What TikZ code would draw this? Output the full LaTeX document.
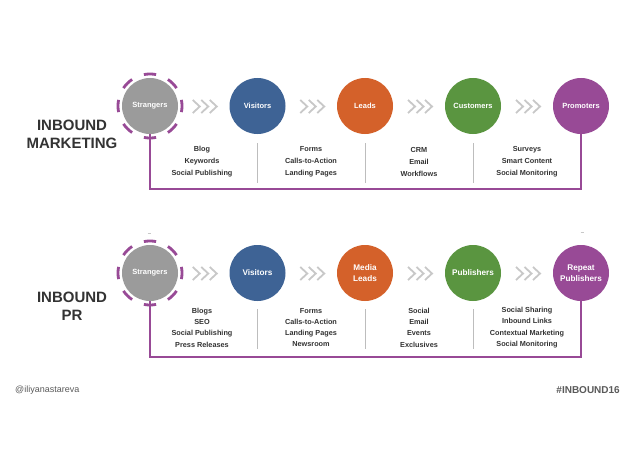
\documentclass[tikz,border=0pt]{standalone}
\usepackage{fontspec}
\setmainfont{Liberation Sans}
\usetikzlibrary{calc}
\definecolor{cgray}{HTML}{9B9B9B}
\definecolor{cblue}{HTML}{3E6395}
\definecolor{corange}{HTML}{D4612A}
\definecolor{cgreen}{HTML}{5A9540}
\definecolor{cpurple}{HTML}{984A96}
\definecolor{ctext}{HTML}{333333}
\definecolor{cchev}{HTML}{C8C8C8}
\definecolor{csep}{HTML}{BDBDBD}
\definecolor{cfoot}{HTML}{5A5A5A}
\begin{document}
\begin{tikzpicture}[x=1pt,y=-1pt,
  stage/.style={circle, minimum size=56pt, inner sep=0pt, text=white, align=center},
  toplab/.style={font=\bfseries\fontsize{7.5}{9}\selectfont},
  botlab/.style={font=\bfseries\fontsize{8.2}{11}\selectfont},
  items/.style={align=center, text=ctext, inner sep=0pt, font=\bfseries\fontsize{7.3}{12}\selectfont},
  itemsb/.style={align=center, text=ctext, inner sep=0pt, font=\bfseries\fontsize{7.3}{11.3}\selectfont},
  title/.style={align=center, text=ctext, font=\bfseries\fontsize{15}{18}\selectfont},
  chev/.style={cchev, line width=1.8pt},
  sepline/.style={csep, line width=1pt},
  loop/.style={cpurple, line width=2.5pt},
  ringdash/.style={cpurple, line width=2.8pt},
]
\useasboundingbox[fill=white] (0,0) rectangle (640,452);

% ---------- top row ----------
\node[title] (t1) at (72,134) {INBOUND\\MARKETING};
\node[stage, toplab, fill=cgray]   (s1) at (150,106) {Strangers};
\node[stage, toplab, fill=cblue]   (v1) at (257.5,106) {Visitors};
\node[stage, toplab, fill=corange] (l1) at (365,106) {Leads};
\node[stage, toplab, fill=cgreen]  (c1) at (473,106) {Customers};
\node[stage, toplab, fill=cpurple] (p1) at (581,106) {Promoters};

\node[items] (i11) at (202,162) {Blog\\Keywords\\Social Publishing};
\node[items] (i12) at (311,162) {Forms\\Calls-to-Action\\Landing Pages};
\node[items] (i13) at (419,162) {CRM\\Email\\Workflows};
\node[items] (i14) at (527,162) {Surveys\\Smart Content\\Social Monitoring};

\foreach \n in {v1,l1,c1}{
  \coordinate (a) at ($(\n)+(0,37)$);
  \coordinate (b) at ($(\n)+(0,77)$);
  \draw[sepline] (a) -- (b);
}
\coordinate (b1) at (150,189);
\draw[loop] (s1.south) -- (b1) -| (p1.south);

% ---------- bottom row ----------
\node[title] (t2) at (72,306) {INBOUND\\PR};
\node[stage, toplab, fill=cgray]   (s2) at (150,273) {Strangers};
\node[stage, botlab, fill=cblue]   (v2) at (257.5,273) {Visitors};
\node[stage, botlab, fill=corange] (l2) at (365,273) {Media\\Leads};
\node[stage, botlab, fill=cgreen]  (c2) at (473,273) {Publishers};
\node[stage, botlab, fill=cpurple] (p2) at (581,273) {Repeat\\Publishers};

\node[itemsb] (i21) at (202,327.5) {Blogs\\SEO\\Social Publishing\\Press Releases};
\node[itemsb] (i22) at (311,327.5) {Forms\\Calls-to-Action\\Landing Pages\\Newsroom};
\node[itemsb] (i23) at (419,327.5) {Social\\Email\\Events\\Exclusives};
\node[itemsb] (i24) at (527,327.5) {Social Sharing\\Inbound Links\\Contextual Marketing\\Social Monitoring};

\foreach \n in {v2,l2,c2}{
  \coordinate (a) at ($(\n)+(0,36)$);
  \coordinate (b) at ($(\n)+(0,76)$);
  \draw[sepline] (a) -- (b);
}
\coordinate (b2) at (150,357);
\draw[loop] (s2.south) -- (b2) -| (p2.south);

% ---------- dashed rings (8 dashes each) ----------
\foreach \n in {s1,s2}{
  \foreach \ang in {0,45,...,315}{
    \draw[ringdash] ($(\n.center)+(\ang-11:32pt)$) arc[start angle=\ang-11, end angle=\ang+11, radius=32pt];
  }
}

% tiny marks above
\coordinate (k1) at (147.5,233); \coordinate (k2) at (150.5,233);
\draw[cchev, line width=0.6pt] (k1) -- (k2);
\coordinate (k3) at (580.5,232); \coordinate (k4) at (583.5,232);
\draw[cchev, line width=0.6pt] (k3) -- (k4);

% ---------- chevrons ----------
\foreach \a/\b in {s1/v1,v1/l1,l1/c1,c1/p1,s2/v2,v2/l2,l2/c2,c2/p2}{
  \coordinate (m) at ($(\a)!0.5!(\b)+(1,0.5)$);
  \foreach \d in {0,8.5,17}{
    \draw[chev] ($(m)+(-12+\d,-6.5)$) -- ++(7,6.5) -- ++(-7,6.5);
  }
}

% ---------- footer ----------
\node[anchor=west, inner sep=0pt, text=cfoot, font=\fontsize{9}{11}\selectfont] (f1) at (15,390) {@iliyanastareva};
\node[anchor=east, inner sep=0pt, text=cfoot, font=\bfseries\fontsize{10}{12}\selectfont] (f2) at (620,390) {\#INBOUND16};
\end{tikzpicture}
\end{document}
